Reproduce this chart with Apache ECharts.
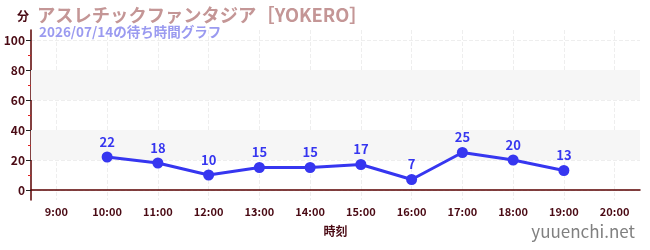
<!DOCTYPE html>
<html>
<head>
<meta charset="utf-8">
<script src="https://cdn.jsdelivr.net/npm/echarts@6/dist/echarts.min.js"></script>
<style>
  html, body { margin: 0; padding: 0; background: #fff; }
  #chart { width: 650px; height: 250px; }
</style>
</head>
<body>
<div id="chart"></div>
<script>
const hours = ['9:00', '10:00', '11:00', '12:00', '13:00', '14:00', '15:00', '16:00', '17:00', '18:00', '19:00', '20:00'];
const waitTimes = [null, 22, 18, 10, 15, 15, 17, 7, 25, 20, 13, null];
const yLabels = [0, 20, 40, 60, 80, 100];
const yMinor = [10, 30, 50, 70, 90];
const bands = [[20, 40], [60, 80]];

const font = '"Noto Sans CJK JP", "Noto Sans", sans-serif';
const dark = '#4a0a14';

const getOption = () => {
  return {
    animation: false,
    textStyle: { fontFamily: font },
    title: [
      {
        text: 'アスレチックファンタジア［YOKERO］',
        left: 32, top: 1,
        textStyle: { color: '#c49696', fontSize: 18.3, fontWeight: 'bold', fontFamily: font }
      },
      {
        text: '2026/07/14の待ち時間グラフ',
        left: 34, top: 20,
        textStyle: { color: '#9a9af0', fontSize: 13.5, fontWeight: 'bold', fontFamily: font }
      },
      {
        text: 'yuuenchi.net',
        right: 10, bottom: 5,
        textStyle: { color: '#808080', fontSize: 17, fontWeight: 'normal', fontFamily: font }
      }
    ],
    grid: { left: 31, right: 10, top: 30, bottom: 50 },
    xAxis: {
      type: 'category',
      data: hours,
      boundaryGap: true,
      name: '時刻',
      nameLocation: 'middle',
      nameGap: 25,
      nameTextStyle: { color: dark, fontSize: 12, fontWeight: 'bold' },
      axisLine: { lineStyle: { color: '#5a0000', width: 1.5 } },
      axisTick: { alignWithLabel: true, length: 4, lineStyle: { color: '#333' } },
      axisLabel: { color: dark, fontSize: 11, fontWeight: 'bold', margin: 6 },
      splitLine: { show: true, alignWithLabel: true, lineStyle: { color: '#eeeeee', type: 'dashed' } }
    },
    yAxis: [
      {
        type: 'value',
        min: -6.67,
        max: 106.67,
        name: '分',
        nameLocation: 'end',
        nameGap: 8,
        nameTextStyle: { color: dark, fontSize: 12, fontWeight: 'bold', align: 'right', padding: [0, 2, 0, 0] },
        axisLine: { show: true, lineStyle: { color: '#5a0000', width: 1.5 } },
        axisTick: { show: true, customValues: yLabels, length: 5, lineStyle: { color: '#222' } },
        axisLabel: { customValues: yLabels, color: dark, fontSize: 12, fontWeight: 'bold', margin: 6 },
        splitLine: { show: true, lineStyle: { color: '#eeeeee', type: 'dashed' } }
      },
      {
        type: 'value',
        min: -6.67,
        max: 106.67,
        position: 'left',
        axisLine: { show: false },
        axisTick: { show: true, customValues: yMinor, length: 3, lineStyle: { color: '#e02020' } },
        axisLabel: { show: false },
        splitLine: { show: false }
      }
    ],
    series: [
      {
        type: 'line',
        data: waitTimes,
        yAxisIndex: 0,
        connectNulls: false,
        symbol: 'circle',
        symbolSize: 11,
        itemStyle: { color: '#3636f0' },
        lineStyle: { color: '#3636f0', width: 3 },
        label: {
          show: true,
          position: 'top',
          distance: 3,
          color: '#3636f0',
          fontSize: 13,
          fontWeight: 'bold'
        },
        markArea: {
          silent: true,
          itemStyle: { color: '#f6f6f6' },
          data: bands.map(b => [{ yAxis: b[0] }, { yAxis: b[1] }])
        },
        z: 3
      }
    ]
  };
};

const initChart = () => {
  const chart = echarts.init(document.querySelector('#chart'));
  chart.setOption(getOption());
};

initChart();
</script>
</body>
</html>
